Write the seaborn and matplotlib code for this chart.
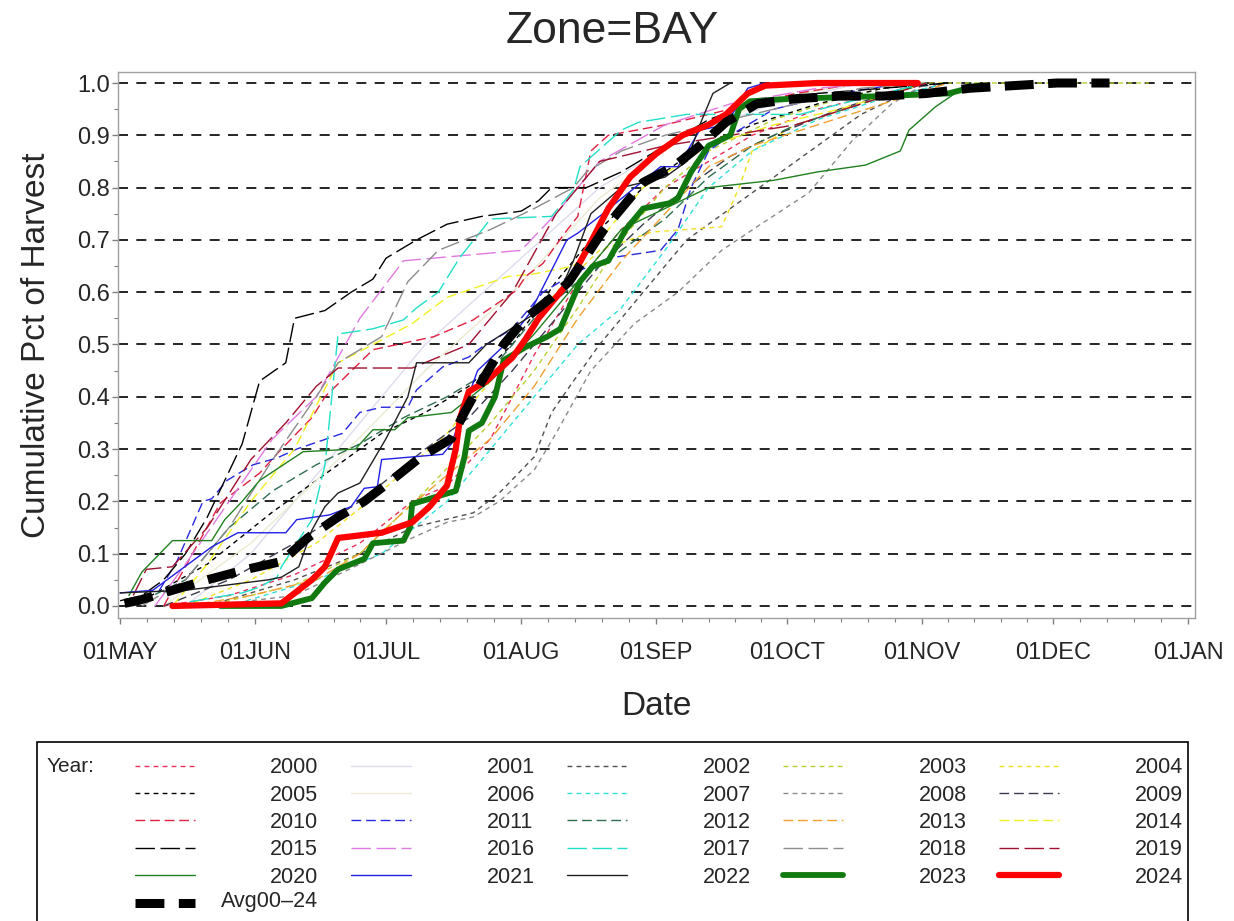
import pandas as pd
import matplotlib
matplotlib.use('Agg')
import matplotlib.pyplot as plt
from matplotlib.lines import Line2D
from matplotlib.patches import Rectangle
import seaborn as sns

# x = days since 01MAY, y = cumulative pct of harvest
d2000 = [10, 25, 40, 55, 67, 75, 85, 95, 105, 115, 125, 135, 145, 160, 175, 185]
v2000 = [0.0, 0.02, 0.06, 0.12, 0.20, 0.23, 0.32, 0.48, 0.62, 0.72, 0.80, 0.85, 0.90, 0.95, 0.98, 1.0]
d2001 = [15, 30, 50, 70, 90, 110, 130, 150, 170]
v2001 = [0.0, 0.10, 0.30, 0.50, 0.65, 0.80, 0.90, 0.96, 1.0]
d2002 = [20, 40, 55, 67, 81, 87, 95, 99, 104, 110, 120, 130, 140, 150, 160, 170, 180, 190]
v2002 = [0.0, 0.05, 0.10, 0.15, 0.178, 0.216, 0.285, 0.37, 0.43, 0.50, 0.60, 0.70, 0.76, 0.82, 0.88, 0.94, 0.98, 1.0]
d2003 = [20, 40, 55, 70, 85, 95, 105, 115, 125, 135, 150, 165, 180, 236]
v2003 = [0.0, 0.04, 0.10, 0.22, 0.35, 0.45, 0.57, 0.70, 0.80, 0.87, 0.93, 0.97, 1.0, 1.0]
d2004 = [15, 30, 45, 60, 75, 90, 100, 110, 122, 138, 142, 145, 155, 170, 185]
v2004 = [0.0, 0.05, 0.12, 0.22, 0.33, 0.48, 0.60, 0.68, 0.715, 0.725, 0.80, 0.87, 0.92, 0.96, 1.0]
d2005 = [5, 20, 35, 50, 60, 70, 80, 90, 100, 110, 120, 130, 145, 160, 175, 190]
v2005 = [0.01, 0.08, 0.18, 0.27, 0.33, 0.37, 0.42, 0.50, 0.62, 0.72, 0.80, 0.86, 0.92, 0.96, 0.99, 1.0]
d2006 = [10, 30, 50, 70, 90, 110, 130, 150, 170]
v2006 = [0.0, 0.12, 0.28, 0.45, 0.60, 0.78, 0.90, 0.97, 1.0]
d2007 = [25, 45, 60, 75, 85, 95, 105, 115, 125, 135, 145, 160, 175, 190]
v2007 = [0.0, 0.05, 0.10, 0.20, 0.30, 0.40, 0.50, 0.57, 0.68, 0.80, 0.87, 0.93, 0.97, 1.0]
d2008 = [20, 40, 55, 67, 75, 81, 87, 95, 100, 108, 118, 128, 138, 147, 158, 168, 177, 185]
v2008 = [0.0, 0.02, 0.08, 0.13, 0.16, 0.17, 0.20, 0.26, 0.33, 0.45, 0.54, 0.60, 0.68, 0.73, 0.79, 0.89, 0.96, 1.0]
d2009 = [10, 25, 40, 55, 70, 80, 90, 100, 110, 120, 130, 140, 150, 165, 180, 190]
v2009 = [0.0, 0.05, 0.12, 0.20, 0.30, 0.36, 0.45, 0.55, 0.65, 0.73, 0.80, 0.86, 0.90, 0.95, 0.99, 1.0]
d2010 = [10, 23, 32, 37, 44, 47, 58, 72, 81, 91, 93, 97, 102, 105, 108, 112, 125, 140, 155, 170]
v2010 = [0.0, 0.197, 0.254, 0.30, 0.36, 0.40, 0.49, 0.515, 0.547, 0.604, 0.63, 0.655, 0.713, 0.745, 0.87, 0.90, 0.92, 0.95, 0.98, 1.0]
d2011 = [9, 13, 19, 21, 24.5, 30.5, 36, 40.5, 46.5, 51, 55, 60, 66, 68, 74, 80, 83, 90, 97, 105, 112, 124, 128, 131, 135, 140, 150, 165, 180]
v2011 = [0.03, 0.085, 0.20, 0.205, 0.24, 0.27, 0.283, 0.30, 0.317, 0.33, 0.37, 0.38, 0.38, 0.413, 0.457, 0.476, 0.495, 0.53, 0.60, 0.64, 0.665, 0.68, 0.72, 0.80, 0.87, 0.90, 0.95, 0.98, 1.0]
d2012 = [5, 15, 25, 35, 45, 55, 65, 75, 85, 95, 105, 115, 125, 135, 145, 155, 170, 185]
v2012 = [0.01, 0.05, 0.15, 0.22, 0.27, 0.31, 0.36, 0.40, 0.45, 0.55, 0.62, 0.68, 0.74, 0.82, 0.88, 0.92, 0.96, 1.0]
d2013 = [15, 30, 45, 55, 65, 75, 85, 95, 105, 115, 125, 135, 145, 160, 175, 190]
v2013 = [0.0, 0.02, 0.05, 0.10, 0.18, 0.25, 0.32, 0.42, 0.55, 0.66, 0.75, 0.84, 0.88, 0.92, 0.96, 1.0]
d2014 = [12, 20, 30, 40, 50, 58, 67, 75, 89, 95, 104, 110, 120, 135, 150, 165, 185]
v2014 = [0.0, 0.08, 0.20, 0.30, 0.465, 0.50, 0.54, 0.59, 0.63, 0.635, 0.65, 0.70, 0.80, 0.88, 0.92, 0.95, 1.0]
d2015 = [0, 5, 10, 15, 20, 24, 28, 32, 38, 40, 47, 53, 58, 61, 68, 75, 83, 92, 96, 99, 107, 115, 125, 135, 145, 160, 175, 190]
v2015 = [0.01, 0.02, 0.05, 0.10, 0.17, 0.24, 0.31, 0.43, 0.465, 0.55, 0.565, 0.60, 0.625, 0.665, 0.70, 0.73, 0.745, 0.755, 0.775, 0.80, 0.80, 0.83, 0.88, 0.93, 0.96, 0.98, 0.99, 1.0]
d2016 = [8, 15, 25, 35, 45, 55, 65, 92, 100, 110, 125, 140, 160, 175]
v2016 = [0.0, 0.08, 0.20, 0.32, 0.40, 0.55, 0.66, 0.68, 0.75, 0.85, 0.92, 0.96, 0.99, 1.0]
d2017 = [16, 28, 32, 36, 37, 44, 47, 50, 58, 65, 68, 73, 78, 85, 99, 104, 105.5, 115, 119, 130, 156, 170, 185]
v2017 = [0.008, 0.025, 0.036, 0.055, 0.075, 0.165, 0.27, 0.52, 0.53, 0.547, 0.57, 0.60, 0.667, 0.74, 0.745, 0.795, 0.84, 0.91, 0.925, 0.94, 0.94, 0.97, 1.0]
d2018 = [5, 15, 25, 35, 45, 50, 60, 66, 73, 85, 95, 104, 107, 115, 125, 140, 155, 170, 185]
v2018 = [0.0, 0.05, 0.15, 0.28, 0.40, 0.465, 0.515, 0.62, 0.68, 0.72, 0.76, 0.80, 0.83, 0.87, 0.90, 0.93, 0.96, 0.99, 1.0]
d2019 = [3, 6, 12, 20, 30, 38, 45, 50, 67, 80, 90, 100, 110, 125, 140, 155, 170, 185]
v2019 = [0.02, 0.07, 0.075, 0.15, 0.28, 0.35, 0.42, 0.455, 0.455, 0.50, 0.60, 0.75, 0.85, 0.88, 0.90, 0.92, 0.96, 1.0]
d2020 = [2, 5, 12, 21, 24, 28, 32, 42, 54, 58, 63, 66, 76, 85, 95, 105, 115, 125, 135, 150, 160, 171, 179, 181, 187, 195]
v2020 = [0.02, 0.065, 0.125, 0.125, 0.165, 0.20, 0.24, 0.295, 0.30, 0.337, 0.337, 0.36, 0.37, 0.43, 0.52, 0.62, 0.72, 0.76, 0.80, 0.814, 0.83, 0.843, 0.87, 0.91, 0.954, 1.0]
d2021 = [0, 7.5, 21, 27, 38, 40.5, 48, 53, 56, 59, 60, 74, 76, 82, 89, 94, 102.5, 105, 110, 124, 128, 133, 139, 144, 148]
v2021 = [0.025, 0.03, 0.113, 0.14, 0.14, 0.165, 0.174, 0.19, 0.225, 0.228, 0.28, 0.29, 0.31, 0.45, 0.505, 0.56, 0.70, 0.713, 0.745, 0.84, 0.84, 0.91, 0.92, 0.99, 1.0]
d2022 = [0, 15, 34, 37, 41, 44, 47, 50, 55, 61, 66, 68, 80, 84, 100, 104, 108, 115, 125, 130, 133, 136, 140]
v2022 = [0.025, 0.03, 0.05, 0.055, 0.075, 0.145, 0.19, 0.216, 0.235, 0.32, 0.40, 0.465, 0.465, 0.50, 0.585, 0.66, 0.75, 0.80, 0.82, 0.85, 0.92, 0.98, 1.0]
d2023 = [23, 37, 44, 47, 50, 56, 58, 65, 66.5, 67, 73, 77, 79, 80, 83, 86, 88, 93, 98, 101, 105.5, 108.5, 112, 116, 120, 126, 128, 131, 135, 140, 142, 144.5, 154, 175, 190, 197]
v2023 = [0.0, 0.0, 0.015, 0.045, 0.07, 0.09, 0.12, 0.125, 0.15, 0.195, 0.21, 0.22, 0.285, 0.335, 0.35, 0.40, 0.47, 0.495, 0.515, 0.53, 0.62, 0.65, 0.66, 0.72, 0.76, 0.77, 0.78, 0.83, 0.88, 0.90, 0.95, 0.965, 0.97, 0.975, 0.98, 0.995]
d2024 = [12, 37, 44, 47, 50, 60, 67, 71, 75, 77, 78, 80, 84, 90, 93, 96, 100, 103, 107, 112, 117, 123, 129, 135, 139, 144, 148, 160, 183]
v2024 = [0.0, 0.005, 0.05, 0.075, 0.13, 0.14, 0.16, 0.19, 0.23, 0.30, 0.36, 0.41, 0.43, 0.475, 0.51, 0.55, 0.59, 0.62, 0.68, 0.76, 0.82, 0.865, 0.90, 0.92, 0.94, 0.98, 0.995, 1.0, 1.0]
d_avg = [1, 4, 12, 20, 29, 37, 43, 50, 56, 63, 69, 76, 79, 83, 88, 93, 99, 103, 107, 111, 115, 120, 127, 133, 139, 146, 155, 165, 175, 185, 195, 205, 215, 227]
v_avg = [0.005, 0.01, 0.03, 0.05, 0.07, 0.085, 0.13, 0.17, 0.20, 0.245, 0.285, 0.32, 0.37, 0.43, 0.50, 0.55, 0.59, 0.62, 0.67, 0.72, 0.76, 0.81, 0.84, 0.88, 0.925, 0.96, 0.97, 0.975, 0.975, 0.98, 0.99, 0.995, 1.0, 1.0]

AVG = 'Avg00\u201324'
series = {
    '2000': (d2000, v2000), '2001': (d2001, v2001), '2002': (d2002, v2002),
    '2003': (d2003, v2003), '2004': (d2004, v2004), '2005': (d2005, v2005),
    '2006': (d2006, v2006), '2007': (d2007, v2007), '2008': (d2008, v2008),
    '2009': (d2009, v2009), '2010': (d2010, v2010), '2011': (d2011, v2011),
    '2012': (d2012, v2012), '2013': (d2013, v2013), '2014': (d2014, v2014),
    '2015': (d2015, v2015), '2016': (d2016, v2016), '2017': (d2017, v2017),
    '2018': (d2018, v2018), '2019': (d2019, v2019), '2020': (d2020, v2020),
    '2021': (d2021, v2021), '2022': (d2022, v2022), '2023': (d2023, v2023),
    '2024': (d2024, v2024), AVG: (d_avg, v_avg),
}

month_days = [0, 31, 61, 92, 123, 153, 184, 214, 245]
month_labels = ['01MAY', '01JUN', '01JUL', '01AUG', '01SEP', '01OCT', '01NOV', '01DEC', '01JAN']
y_ticks = [0.0, 0.1, 0.2, 0.3, 0.4, 0.5, 0.6, 0.7, 0.8, 0.9, 1.0]

# line styles per year
colors = {
    '2000': '#e8305a', '2001': '#dcdcec', '2002': '#505050', '2003': '#b8d030',
    '2004': '#f0e020', '2005': '#000000', '2006': '#ecead0', '2007': '#30e0d8',
    '2008': '#8a8a8a', '2009': '#3c3c50', '2010': '#e02040', '2011': '#2828e0',
    '2012': '#2e6e50', '2013': '#f0a030', '2014': '#f0f020', '2015': '#000000',
    '2016': '#e07ae0', '2017': '#20e0c8', '2018': '#8c8c8c', '2019': '#a01030',
    '2020': '#208020', '2021': '#2020e8', '2022': '#202020', '2023': '#107a10',
    '2024': '#ff0000', AVG: '#000000',
}
short, medium, long_ = (3.5, 3), (7, 3.5), (14, 4)
dashes = {
    '2000': short, '2001': '', '2002': short, '2003': short, '2004': short,
    '2005': short, '2006': '', '2007': short, '2008': short, '2009': medium,
    '2010': medium, '2011': medium, '2012': medium, '2013': medium, '2014': medium,
    '2015': long_, '2016': long_, '2017': long_, '2018': long_, '2019': long_,
    '2020': '', '2021': '', '2022': '', '2023': '', '2024': '',
    AVG: (3.2, 1.6),
}
widths = {k: 1.0 for k in colors}
widths.update({'2023': 4.2, '2024': 4.5, AVG: 6.5})

rows = []
for name, (dd, vv) in series.items():
    for d, v in zip(dd, vv):
        rows.append({'day': d, 'pct': v, 'Year': name})
df = pd.DataFrame(rows)
order = list(series.keys())

sns.set_theme(style='white')
plt.rcParams['font.family'] = ['Liberation Sans', 'DejaVu Sans']

fig = plt.figure(figsize=(12.34, 9.21), dpi=100)
ax = fig.add_axes([0.0956, 0.329, 0.8724, 0.5928])

sns.lineplot(data=df, x='day', y='pct', hue='Year', style='Year', size='Year',
             hue_order=order, style_order=order, size_order=order,
             palette=colors, dashes=dashes, sizes=widths,
             estimator=None, sort=False, legend=False, ax=ax)

ax.set_xlim(-0.5, 246.5)
ax.set_ylim(-0.023, 1.021)
ax.set_xticks(month_days)
ax.set_xticklabels(month_labels)
minor = []
for a, b in zip(month_days[:-1], month_days[1:]):
    minor += [a + (b - a) * k / 5 for k in range(1, 5)]
ax.set_xticks(minor, minor=True)
ax.set_yticks(y_ticks)
ax.set_yticklabels([f'{t:.1f}' for t in y_ticks])
ax.set_yticks([t + 0.05 for t in y_ticks[:-1]], minor=True)
for t in y_ticks:
    ax.axhline(t, color='black', lw=1.2, ls=(0, (6, 5)), zorder=0)

ax.tick_params(axis='both', which='major', labelsize=17, length=4, width=1,
               color='#808080', direction='out', left=True, bottom=True)
ax.tick_params(axis='x', which='major', pad=13)
ax.tick_params(axis='y', which='major', pad=2)
ax.tick_params(axis='both', which='minor', length=3, width=0.8, color='#808080',
               left=True, bottom=True)
for sp in ax.spines.values():
    sp.set_color('#a0a0a0')
    sp.set_linewidth(1.0)

ax.set_xlabel('Date', fontsize=24, labelpad=20)
ax.set_ylabel('Cumulative Pct of Harvest', fontsize=24, labelpad=18)
fig.suptitle('Zone=BAY', fontsize=32, y=0.988, x=0.496)

# legend laid out row-wise like the original (5 columns, filled column by column);
# the average label is right-aligned separately so it doesn't widen column one
handles = {k: Line2D([], [], color=colors[k], lw=widths[k],
                     ls='-' if dashes[k] == '' else (0, dashes[k]))
           for k in order}
ncol = 5
leg_order = []
for c in range(ncol):
    leg_order += order[c::ncol]
leg_labels = ['' if k == AVG else k for k in leg_order]
fig.legend([handles[k] for k in leg_order], leg_labels, ncol=ncol,
           loc='upper left', bbox_to_anchor=(0.109, 0.178), frameon=False,
           fontsize=15.5, handlelength=2.8, handletextpad=3.5,
           columnspacing=1.5, labelspacing=0.3, borderpad=0, borderaxespad=0)
fig.text(0.258, 1 - 901 / 921, AVG, fontsize=15.5, va='center', ha='right')
fig.text(0.038, 0.168, 'Year:', fontsize=15, va='center', ha='left')
fig.patches.append(Rectangle((0.030, -0.05), 0.933, 0.2444, transform=fig.transFigure,
                             fill=False, edgecolor='black', lw=1.2))

fig.savefig('out.png', dpi=100)
